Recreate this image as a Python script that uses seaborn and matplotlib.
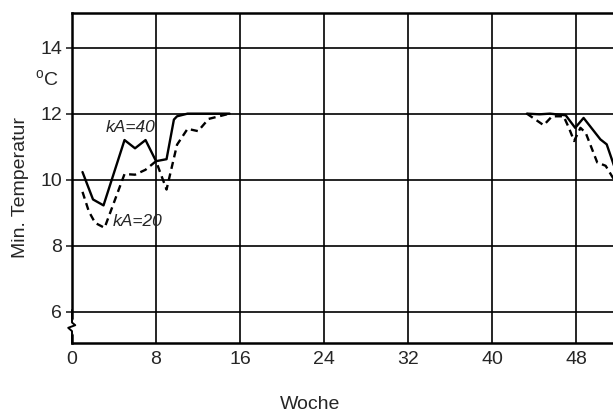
import numpy as np
import pandas as pd
import matplotlib
matplotlib.use("Agg")
import matplotlib.pyplot as plt
import seaborn as sns

# ---- data ----
# kA = 40 (solid), two segments
weeks_40_a = [1, 2, 3, 5, 6, 7, 8, 9, 9.7, 10, 11, 12, 13, 14, 15]
temp_40_a = [10.23, 9.4, 9.22, 11.2, 10.95, 11.2, 10.56, 10.62, 11.82, 11.92, 12.0, 12.0, 12.0, 12.0, 12.0]
weeks_40_b = [43.3, 44.5, 45.5, 47.0, 47.9, 48.7, 50.3, 50.9, 51.6]
temp_40_b = [12.0, 11.98, 12.0, 11.95, 11.57, 11.87, 11.22, 11.07, 10.42]

# kA = 20 (dashed), two segments
weeks_20_a = [1, 1.6, 2.2, 3.1, 5, 6, 7, 8, 9, 10, 11, 12, 13, 14, 15]
temp_20_a = [9.63, 9.04, 8.69, 8.54, 10.17, 10.15, 10.3, 10.56, 9.7, 11.06, 11.54, 11.47, 11.84, 11.92, 12.0]
weeks_20_b = [43.3, 44.9, 45.7, 46.8, 47.3, 47.8, 48.4, 48.9, 50.0, 50.8, 51.6]
temp_20_b = [12.0, 11.65, 11.92, 11.92, 11.57, 11.17, 11.57, 11.42, 10.52, 10.42, 10.0]

x_ticks = [0, 8, 16, 24, 32, 40, 48]
y_ticks = [6, 8, 10, 12, 14]

frames = []
for w, t, k, seg in [(weeks_40_a, temp_40_a, "kA=40", "40a"),
                     (weeks_40_b, temp_40_b, "kA=40", "40b"),
                     (weeks_20_a, temp_20_a, "kA=20", "20a"),
                     (weeks_20_b, temp_20_b, "kA=20", "20b")]:
    frames.append(pd.DataFrame({"Woche": w, "Temp": t, "kA": k, "seg": seg}))
df = pd.concat(frames, ignore_index=True)

sns.set_style("white")
plt.rcParams["font.family"] = ["Liberation Sans", "DejaVu Sans"]
plt.rcParams["mathtext.fontset"] = "custom"
plt.rcParams["mathtext.rm"] = "Liberation Sans"

fig = plt.figure(figsize=(6.13, 4.16), dpi=100)
ax = fig.add_axes([72 / 613, 1 - 343 / 416, 1 - 72 / 613, 330 / 416])

sns.lineplot(data=df, x="Woche", y="Temp", style="kA", units="seg",
             estimator=None, sort=False, color="black", linewidth=1.7,
             dashes={"kA=40": "", "kA=20": (3, 2)}, legend=False, ax=ax)

ax.set_xlim(0, 51.5)
ax.set_ylim(5.05, 15.05)
ax.set_xticks(x_ticks)
ax.set_yticks(y_ticks)
ax.grid(True, color="black", linewidth=1.2)
ax.set_axisbelow(True)

for side in ["left", "bottom", "top"]:
    ax.spines[side].set_visible(True)
    ax.spines[side].set_color("black")
    ax.spines[side].set_linewidth(1.8)
ax.spines["right"].set_visible(False)

ax.tick_params(axis="x", length=0, pad=6, labelsize=14)
ax.tick_params(axis="y", length=4, width=1.2, pad=3, labelsize=14, left=True)

ax.set_xlabel("Woche", fontsize=14)
ax.set_ylabel("Min. Temperatur", fontsize=14)
ax.xaxis.set_label_coords((310 - 72) / 541, (343 - 396) / 330)
ax.yaxis.set_label_coords((29 - 72) / 541, (343 - 187) / 330)

# unit label between 14 and 12
ax.text(-0.047, 13.05, r"$\mathregular{^{o}C}$", transform=ax.get_yaxis_transform(),
        ha="center", va="center", fontsize=14)

# curve labels
ax.text(5.6, 11.58, "kA=40", style="italic", fontsize=12.5, ha="center", va="center")
ax.text(6.2, 8.74, "kA=20", style="italic", fontsize=12.5, ha="center", va="center")

# axis break mark on the y axis
ax.plot([0, 0], [0.030, 0.066], color="white", linewidth=3,
        transform=ax.transAxes, clip_on=False, zorder=5)
ax.plot([0, 0, -0.007, 0.006, 0, 0], [0.0, 0.036, 0.046, 0.054, 0.062, 0.1],
        color="black", linewidth=1.4, transform=ax.transAxes, clip_on=False, zorder=6)

fig.savefig("out.png", dpi=100)
